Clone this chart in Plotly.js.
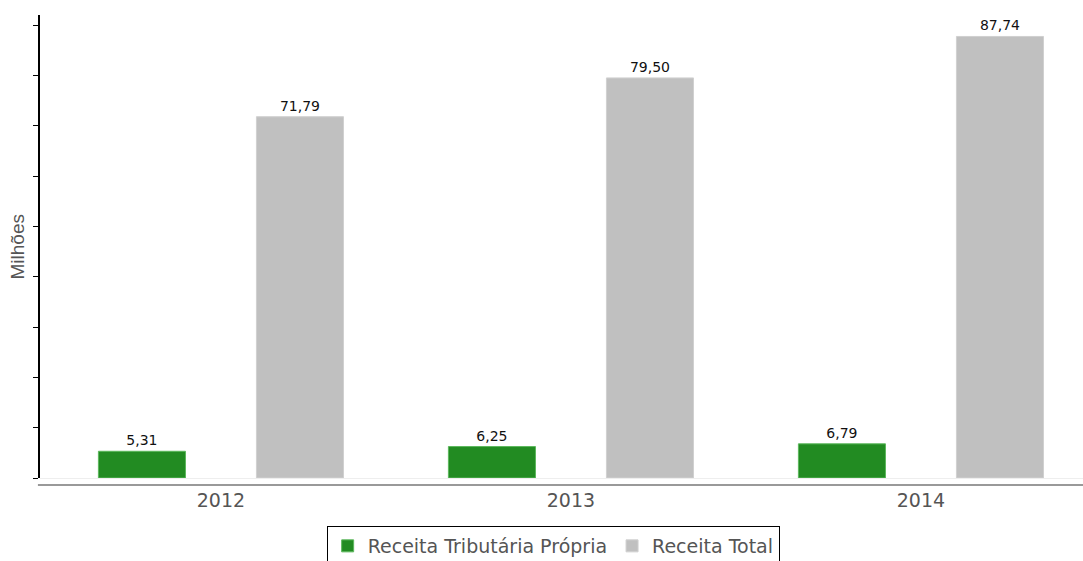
<!DOCTYPE html>
<html>
<head>
<meta charset="utf-8">
<script src="https://cdn.plot.ly/plotly-3.0.1.min.js"></script>
<style>html,body{margin:0;padding:0;background:#fff;}#chart{width:1083px;height:561px;}</style>
</head>
<body>
<div id="chart"></div>
<script>
var categories = ['2012', '2013', '2014'];
var seriesNames = ['Receita Tributária Própria', 'Receita Total'];
var tributaria = [5.31, 6.25, 6.79];
var total = [71.79, 79.50, 87.74];
var tributariaLabels = ['5,31', '6,25', '6,79'];
var totalLabels = ['71,79', '79,50', '87,74'];
var yTitle = 'Milhões';

var labelFont = {family: 'DejaVu Sans, sans-serif', size: 14, color: '#111'};

var traces = [
  {type: 'bar', name: seriesNames[0], x: categories, y: tributaria, text: tributariaLabels,
   textposition: 'outside', textfont: labelFont, cliponaxis: false, hoverinfo: 'none',
   marker: {color: '#228B22', line: {color: '#5cb85c', width: 1}}},
  {type: 'bar', name: seriesNames[1], x: categories, y: total, text: totalLabels,
   textposition: 'outside', textfont: labelFont, cliponaxis: false, hoverinfo: 'none',
   marker: {color: '#C0C0C0', line: {color: '#d0d0d0', width: 1}}}
];

var layout = {
  width: 1083, height: 561,
  margin: {l: 40, r: 0, t: 15, b: 83, pad: 0, autoexpand: false},
  paper_bgcolor: '#fff', plot_bgcolor: '#fff',
  barmode: 'group', bargap: 0.097, bargroupgap: 0.449,
  showlegend: true,
  legend: {orientation: 'h', x: 0.492, xanchor: 'center', y: -0.1037, yanchor: 'top',
           bordercolor: '#000', borderwidth: 1, bgcolor: '#fff',
           font: {family: 'DejaVu Sans, sans-serif', size: 19, color: '#555'}, itemwidth: 30},
  xaxis: {type: 'category', range: [-0.517, 2.463], showline: false, showgrid: false,
          zeroline: false, ticks: '', ticklabelstandoff: 9,
          tickfont: {family: 'DejaVu Sans, sans-serif', size: 19, color: '#555'}},
  yaxis: {range: [0, 92], dtick: 10, tick0: 0, showticklabels: false, showgrid: false,
          zeroline: true, zerolinecolor: '#eeeeee', zerolinewidth: 1,
          showline: true, linecolor: '#000', linewidth: 2, ticks: 'outside', ticklen: 5,
          tickcolor: '#000', tickwidth: 1},
  shapes: [
    {type: 'line', xref: 'paper', yref: 'paper', x0: -0.002, x1: 1, y0: -0.0151, y1: -0.0151,
     line: {color: '#999', width: 2}}
  ],
  annotations: [
    {text: yTitle, xref: 'paper', yref: 'paper', x: -0.0211, y: 0.5, xanchor: 'center', yanchor: 'middle',
     textangle: -90, showarrow: false,
     font: {family: 'Liberation Sans, Arial, sans-serif', size: 19, color: '#555'}}
  ]
};

Plotly.newPlot('chart', traces, layout, {displayModeBar: false, staticPlot: true});
</script>
</body>
</html>
